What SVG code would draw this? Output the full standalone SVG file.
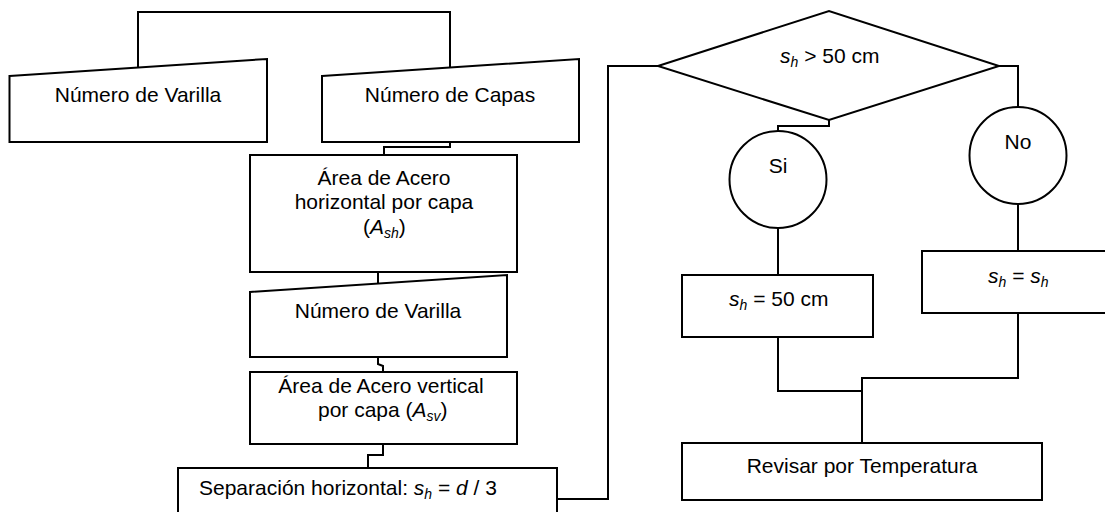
<svg xmlns="http://www.w3.org/2000/svg" width="1105" height="512" viewBox="0 0 1105 512">
<style>
.s{fill:#fff;stroke:#000;stroke-width:2}
.c{fill:none;stroke:#000;stroke-width:2}
text{font-family:"Liberation Sans",Arial,sans-serif;font-size:21px;fill:#000}
.i{font-style:italic}
.sub{font-style:italic;font-size:14px}
</style>
<rect width="1105" height="512" fill="#fff"/>
<g id="connectors">
<polyline class="c" points="138,67.5 138,12 450,12 450,67.5"/>
<polyline class="c" points="450,142 450,147 384,147 384,155"/>
<polyline class="c" points="378,272 378,283.5"/>
<polyline class="c" points="378,357 378,364 383,366 383,372"/>
<polyline class="c" points="383,444 383,455 368,455 368,468"/>
<polyline class="c" points="557,499 608,499 608,66 658,66"/>
<polyline class="c" points="829,120 829,126 778,126 778,131"/>
<polyline class="c" points="999,66 1018,66 1018,107"/>
<polyline class="c" points="778,228 778,275"/>
<polyline class="c" points="1018,204 1018,251"/>
<polyline class="c" points="778,337 778,391 862,391"/>
<polyline class="c" points="1018,313 1018,378 862,378 862,443"/>
</g>
<g id="n1">
<polygon class="s" points="9.5,76 267,59 267,142 9.5,142"/>
<text x="138" y="102" text-anchor="middle">Número de Varilla</text>
</g>
<g id="n2">
<polygon class="s" points="322,76 579,59 579,142 322,142"/>
<text x="450" y="102" text-anchor="middle">Número de Capas</text>
</g>
<g id="n3">
<rect class="s" x="250" y="155" width="267" height="117"/>
<text x="384" y="185" text-anchor="middle">Área de Acero</text>
<text x="384" y="209" text-anchor="middle">horizontal por capa</text>
<text x="363" y="234">(<tspan class="i">A</tspan><tspan class="sub" dy="4">sh</tspan><tspan dy="-4">)</tspan></text>
</g>
<g id="n4">
<polygon class="s" points="250,292 507,275 507,357 250,357"/>
<text x="378" y="318" text-anchor="middle">Número de Varilla</text>
</g>
<g id="n5">
<rect class="s" x="250" y="372" width="267" height="72"/>
<text x="381" y="393" text-anchor="middle">Área de Acero vertical</text>
<text x="318" y="417">por capa (<tspan class="i">A</tspan><tspan class="sub" dy="4">sv</tspan><tspan dy="-4">)</tspan></text>
</g>
<g id="n6">
<rect class="s" x="178" y="468" width="379" height="60"/>
<text x="199" y="495">Separación horizontal: <tspan class="i">s</tspan><tspan class="sub" dy="4">h</tspan><tspan dy="-4"> = </tspan><tspan class="i">d</tspan> / 3</text>
</g>
<g id="n7">
<polygon class="s" points="658,66 829,11 999,66 829,120"/>
<text x="780" y="63"><tspan class="i">s</tspan><tspan class="sub" dy="4">h</tspan><tspan dy="-4"> &gt; 50 cm</tspan></text>
</g>
<g id="n8">
<circle class="s" cx="778" cy="179.5" r="48.5"/>
<text x="778" y="173" text-anchor="middle">Si</text>
</g>
<g id="n9">
<circle class="s" cx="1018" cy="155.5" r="48.5"/>
<text x="1018" y="149" text-anchor="middle">No</text>
</g>
<g id="n10">
<rect class="s" x="682" y="275" width="191" height="62"/>
<text x="729" y="306"><tspan class="i">s</tspan><tspan class="sub" dy="4">h</tspan><tspan dy="-4"> = 50 cm</tspan></text>
</g>
<g id="n11">
<rect class="s" x="922" y="251" width="200" height="62"/>
<text x="988" y="283"><tspan class="i">s</tspan><tspan class="sub" dy="4">h</tspan><tspan dy="-4"> = </tspan><tspan class="i">s</tspan><tspan class="sub" dy="4">h</tspan></text>
</g>
<g id="n12">
<rect class="s" x="682" y="443" width="360" height="57"/>
<text x="862" y="473" text-anchor="middle">Revisar por Temperatura</text>
</g>
</svg>
